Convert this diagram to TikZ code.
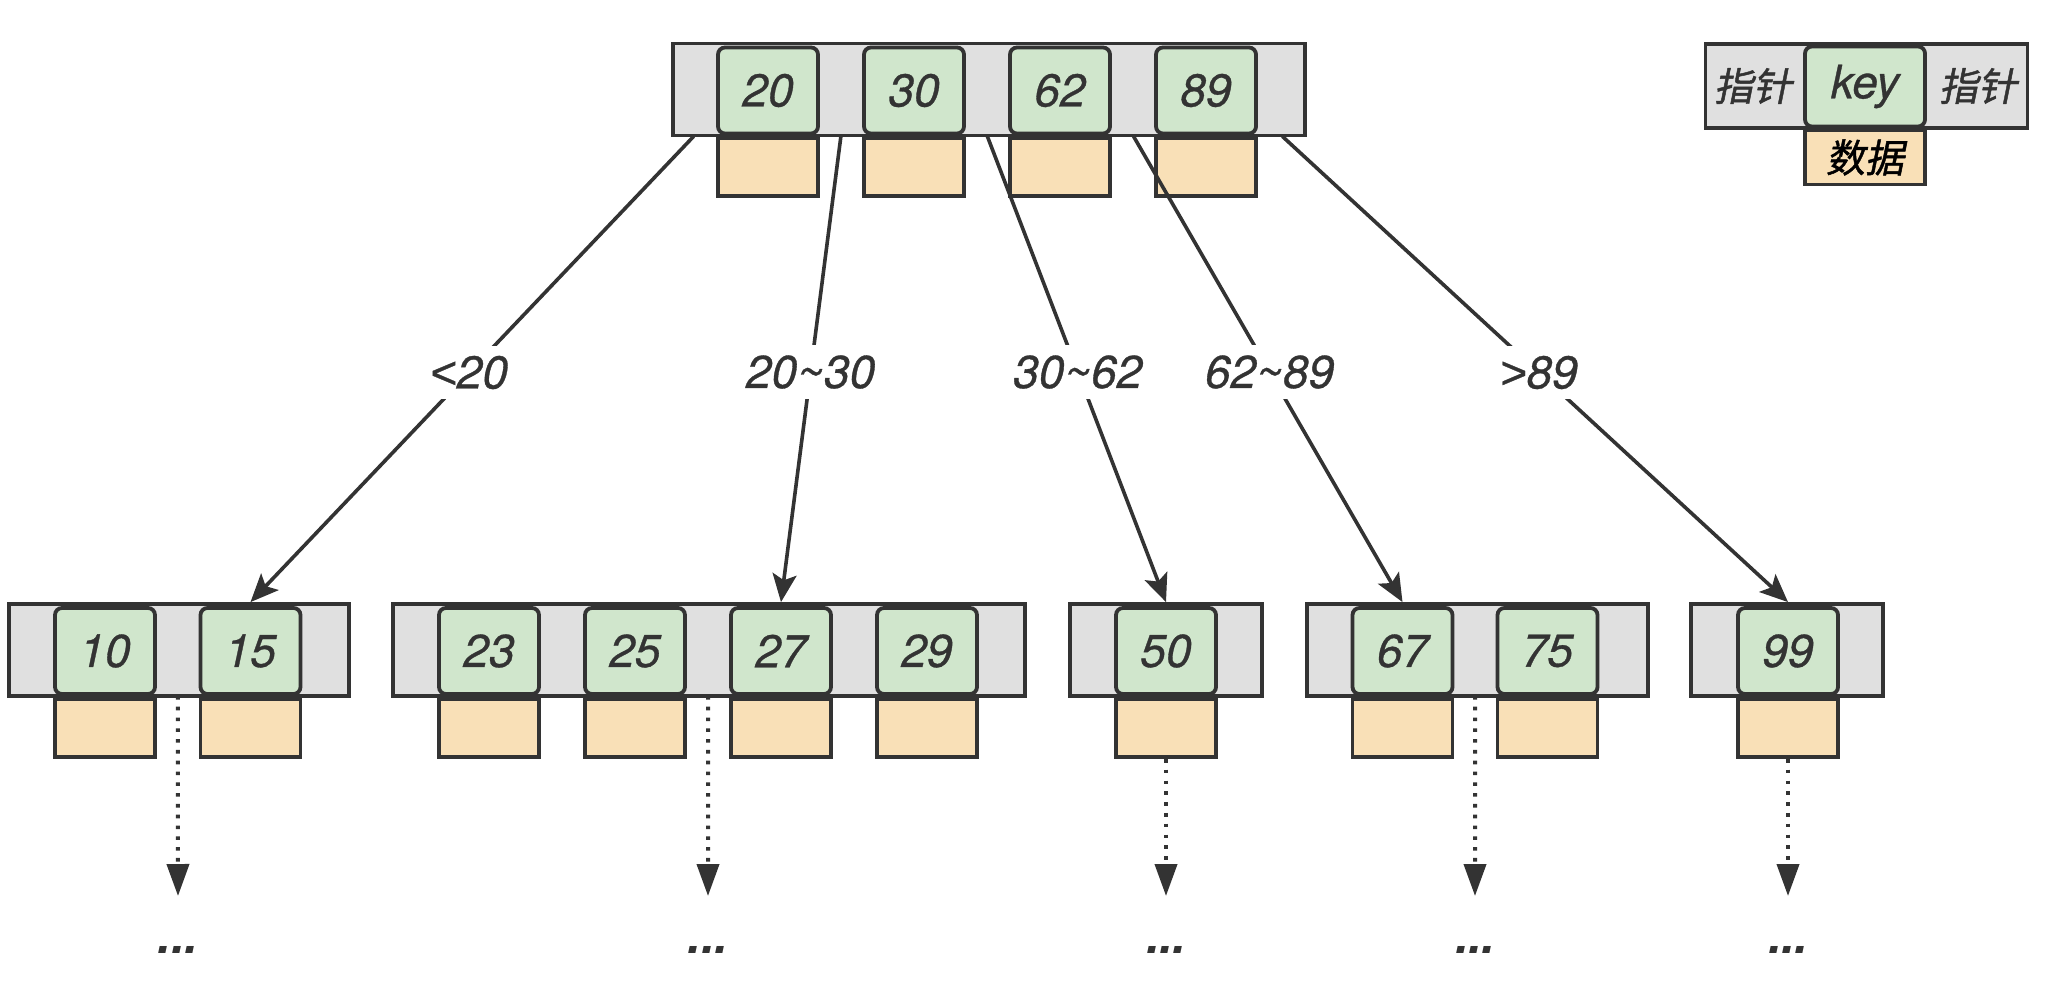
\documentclass[tikz,border=0pt]{standalone}
\usepackage{fontspec}
\setmainfont{TeX Gyre Heros}
\newfontfamily\keyfam[ItalicFeatures={FakeBold=0.7}]{TeX Gyre Heros}
\newfontfamily\symfam[ItalicFeatures={FakeBold=0.7}]{Liberation Sans}
\newfontfamily\cjkfont[FakeSlant=0.2,FakeBold=1.2]{Noto Sans CJK SC}
\usepackage{xcolor}
\usepackage{tikz}
\usetikzlibrary{arrows.meta,positioning,calc}
\definecolor{inkdark}{HTML}{333333}
\definecolor{bargray}{HTML}{E0E0E0}
\definecolor{keygreen}{HTML}{D0E6CC}
\definecolor{dataorange}{HTML}{F9E0B7}
\newcommand{\keyfont}{\fontsize{23}{27}\selectfont\keyfam\itshape}
\newcommand{\cjkkeyfont}{\fontsize{19.5}{24}\selectfont\cjkfont}
\newcommand{\lesssign}{{\symfam\itshape <}}
\newcommand{\moresign}{{\symfam\itshape >}}
\tikzset{
  bar/.style={rectangle,draw=inkdark,fill=bargray,line width=1.9pt,inner sep=0pt},
  keybox/.style={rectangle,rounded corners=3.5pt,draw=inkdark,fill=keygreen,line width=1.9pt,minimum width=50pt,minimum height=43pt,inner sep=0pt,font=\keyfont,text=inkdark},
  databox/.style={rectangle,draw=inkdark,fill=dataorange,line width=1.9pt,minimum width=50pt,minimum height=29pt,inner sep=0pt},
  link/.style={-{Stealth[length=14pt,width=12pt,inset=3pt]},line width=1.8pt,draw=inkdark},
  more/.style={-{Triangle[length=16pt,width=11pt]},line width=2pt,dash pattern=on 1.8pt off 3.6pt,draw=inkdark},
  rangelabel/.style={fill=white,font=\keyfont,text=inkdark,inner sep=5pt},
  moredots/.style={font=\fontsize{24}{28}\selectfont\keyfam\bfseries\itshape,text=inkdark,inner sep=0pt}
}

\begin{document}
\begin{tikzpicture}[x=0.5pt,y=-0.5pt]
  \useasboundingbox (0,0) rectangle (2050,984);
  % root
  \node[bar,minimum width=316pt,minimum height=46pt] (root) at (989,89.5) {};
  \node[databox] (d20) at (768,167) {};
  \node[databox] (d30) at (914,167) {};
  \node[databox] (d62) at (1060,167) {};
  \node[databox] (d89) at (1206,167) {};
  \node[keybox] (k20) at (768,90.5) {20};
  \node[keybox] (k30) at (914,90.5) {30};
  \node[keybox] (k62) at (1060,90.5) {62};
  \node[keybox] (k89) at (1206,90.5) {89};
  % legend
  \node[bar,minimum width=161pt,minimum height=42pt] (lgbar) at (1866.5,86) {};
  \node[databox,minimum width=60pt,minimum height=27pt] (lgdata) at (1865,157.5) {\cjkkeyfont 数据};
  \node[keybox,minimum width=60pt,minimum height=40pt] (lgkey) at (1865,86.5) {key};
  \node[text=inkdark,font=\cjkkeyfont] (lgleft) at (1753,86) {指针};
  \node[text=inkdark,font=\cjkkeyfont] (lgright) at (1978,86) {指针};
  % leaves
  \node[bar,minimum width=170pt,minimum height=46pt] (leafA) at (179,650) {};
  \node[bar,minimum width=316pt,minimum height=46pt] (leafB) at (709,650) {};
  \node[bar,minimum width=96pt,minimum height=46pt] (leafC) at (1166,650) {};
  \node[bar,minimum width=170.5pt,minimum height=46pt] (leafD) at (1477.5,650) {};
  \node[bar,minimum width=96pt,minimum height=46pt] (leafE) at (1787,650) {};
  \foreach \n/\x in {10/105,15/250.5,23/489,25/635,27/781,29/927,50/1166,67/1402.5,75/1547.5,99/1788}{
    \node[databox] (d\n) at (\x,728) {};
    \node[keybox] (k\n) at (\x,651) {\n};
  }
  % links
  \draw[link] ($(root.south west)!0.5!(k20.south west)$) -- (k15.north |- leafA.north)
    node[rangelabel,pos=0.507] {\lesssign20};
  \draw[link] ($(k20.south east)!0.5!(k30.south west)$) -- (k27.north |- leafB.north)
    node[rangelabel,pos=0.507] {20\textasciitilde30};
  \draw[link] ($(k30.south east)!0.5!(k62.south west)$) -- (k50.north |- leafC.north)
    node[rangelabel,pos=0.507] {30\textasciitilde62};
  \draw[link] ($(k62.south east)!0.5!(k89.south west)$) -- (k67.north |- leafD.north)
    node[rangelabel,pos=0.507] {62\textasciitilde89};
  \draw[link] ($(k89.south east)!0.5!(root.south east)$) -- (k99.north |- leafE.north)
    node[rangelabel,pos=0.507] {\moresign89};
  % further levels
  \coordinate (e1) at (178,896);
  \coordinate (e2) at (708,896);
  \coordinate (e3) at (1166,896);
  \coordinate (e4) at (1475,896);
  \coordinate (e5) at (1788,896);
  \draw[more] ($(k10.south east)!0.5!(k15.south west)$) -- (e1);
  \draw[more] ($(k25.south east)!0.5!(k27.south west)$) -- (e2);
  \draw[more] (d50.south) -- (e3);
  \draw[more] ($(k67.south east)!0.5!(k75.south west)$) -- (e4);
  \draw[more] (d99.south) -- (e5);
  \node[moredots] (m1) at (178,950) {...};
  \node[moredots] (m2) at (708,950) {...};
  \node[moredots] (m3) at (1166,950) {...};
  \node[moredots] (m4) at (1475,950) {...};
  \node[moredots] (m5) at (1788,950) {...};
\end{tikzpicture}
\end{document}
